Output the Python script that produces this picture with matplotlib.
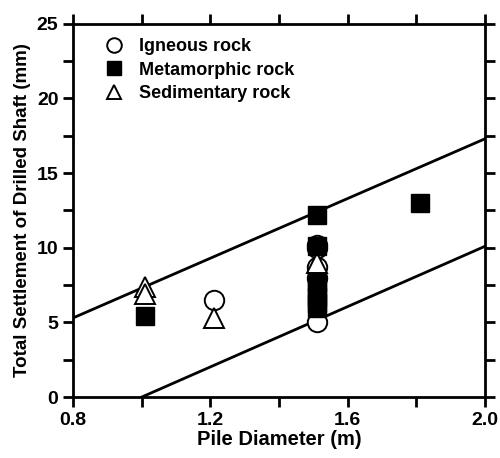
import numpy as np
import matplotlib.pyplot as plt
from matplotlib.ticker import MultipleLocator

plt.rcParams['font.family'] = ['Liberation Sans', 'DejaVu Sans']
plt.rcParams['font.weight'] = 'bold'

# data
igneous_x = [1.21, 1.51, 1.51, 1.51, 1.51, 1.51]
igneous_y = [6.5, 10.2, 10.0, 8.7, 8.0, 5.0]
metamorphic_x = [1.01, 1.51, 1.51, 1.51, 1.51, 1.51, 1.51, 1.51, 1.81]
metamorphic_y = [5.4, 12.2, 10.1, 7.7, 7.2, 6.7, 6.3, 6.0, 13.0]
sedimentary_x = [1.01, 1.01, 1.21, 1.51]
sedimentary_y = [7.4, 6.9, 5.3, 9.0]

upper_x = [0.8, 2.0]
upper_y = [5.3, 17.3]
lower_x = [1.0, 2.0]
lower_y = [0.0, 10.1]

fig = plt.figure(figsize=(5, 4.58), dpi=100)
ax = fig.add_axes([0.146, 0.133, 0.824, 0.815])

ax.plot(upper_x, upper_y, color='black', lw=2)
ax.plot(lower_x, lower_y, color='black', lw=2)

ax.plot(igneous_x, igneous_y, 'o', mfc='white', mec='black', mew=1.4, ms=14, label='Igneous rock', zorder=3)
ax.plot(sedimentary_x, sedimentary_y, '^', mfc='white', mec='black', mew=1.4, ms=14, label='Sedimentary rock', zorder=3)
ax.plot(metamorphic_x, metamorphic_y, 's', color='black', ms=12.5, label='Metamorphic rock', zorder=4)

ax.set_xlim(0.8, 2.0)
ax.set_ylim(0, 25)
ax.xaxis.set_major_locator(MultipleLocator(0.4))
ax.xaxis.set_minor_locator(MultipleLocator(0.2))
ax.yaxis.set_major_locator(MultipleLocator(5))
ax.yaxis.set_minor_locator(MultipleLocator(2.5))
ax.xaxis.set_major_formatter(plt.FuncFormatter(lambda v, p: f'{v:.1f}'))
ax.tick_params(which='both', direction='out', top=True, right=True, width=2, length=7, labelsize=14)
for s in ax.spines.values():
    s.set_linewidth(2)

ax.set_xlabel('Pile Diameter (m)', fontsize=14.5, fontweight='bold', labelpad=1)
ax.set_ylabel('Total Settlement of Drilled Shaft (mm)', fontsize=13.5, fontweight='bold', labelpad=4)

h, l = ax.get_legend_handles_labels()
order = [0, 2, 1]
ax.legend([h[i] for i in order], [l[i] for i in order], loc='upper left', frameon=False,
          prop={'weight': 'bold', 'size': 13}, handletextpad=0.5, handlelength=1.8,
          borderaxespad=0.4, labelspacing=0.35, bbox_to_anchor=(0.025, 1.0),
          markerscale=0.75)

fig.savefig('out.png', dpi=100)
